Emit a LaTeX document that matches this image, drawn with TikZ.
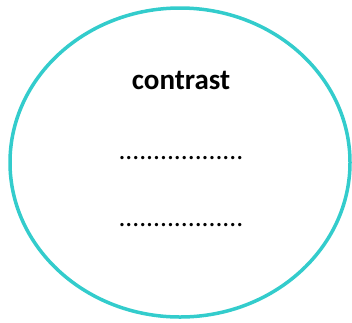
\documentclass[tikz,border=0pt]{standalone}
\usepackage{fontspec}
\setmainfont{Carlito}
\usepackage{xcolor}
\usepackage{tikz}
\usetikzlibrary{shapes,positioning}
\definecolor{rand}{HTML}{33CCCC}

\begin{document}
\begin{tikzpicture}[
			x = 1pt, y = -1pt,
			titel/.style = {font=\bfseries\fontsize{29}{29}\selectfont},
			punkte/.style = {font=\fontsize{27.5}{27.5}\selectfont, inner sep=0pt}
			]

			\useasboundingbox (0,0) rectangle (352,322);

			\draw[rand,line width=3.5pt] (180,162.5) ellipse [x radius=170, y radius=154.5];

			\node[titel] (wort) at (181,80) {contrast};
			\node[punkte] (zeile1) at (181,158) {..................};
			\node[punkte] (zeile2) at (181,225) {..................};

		\end{tikzpicture}
\end{document}
